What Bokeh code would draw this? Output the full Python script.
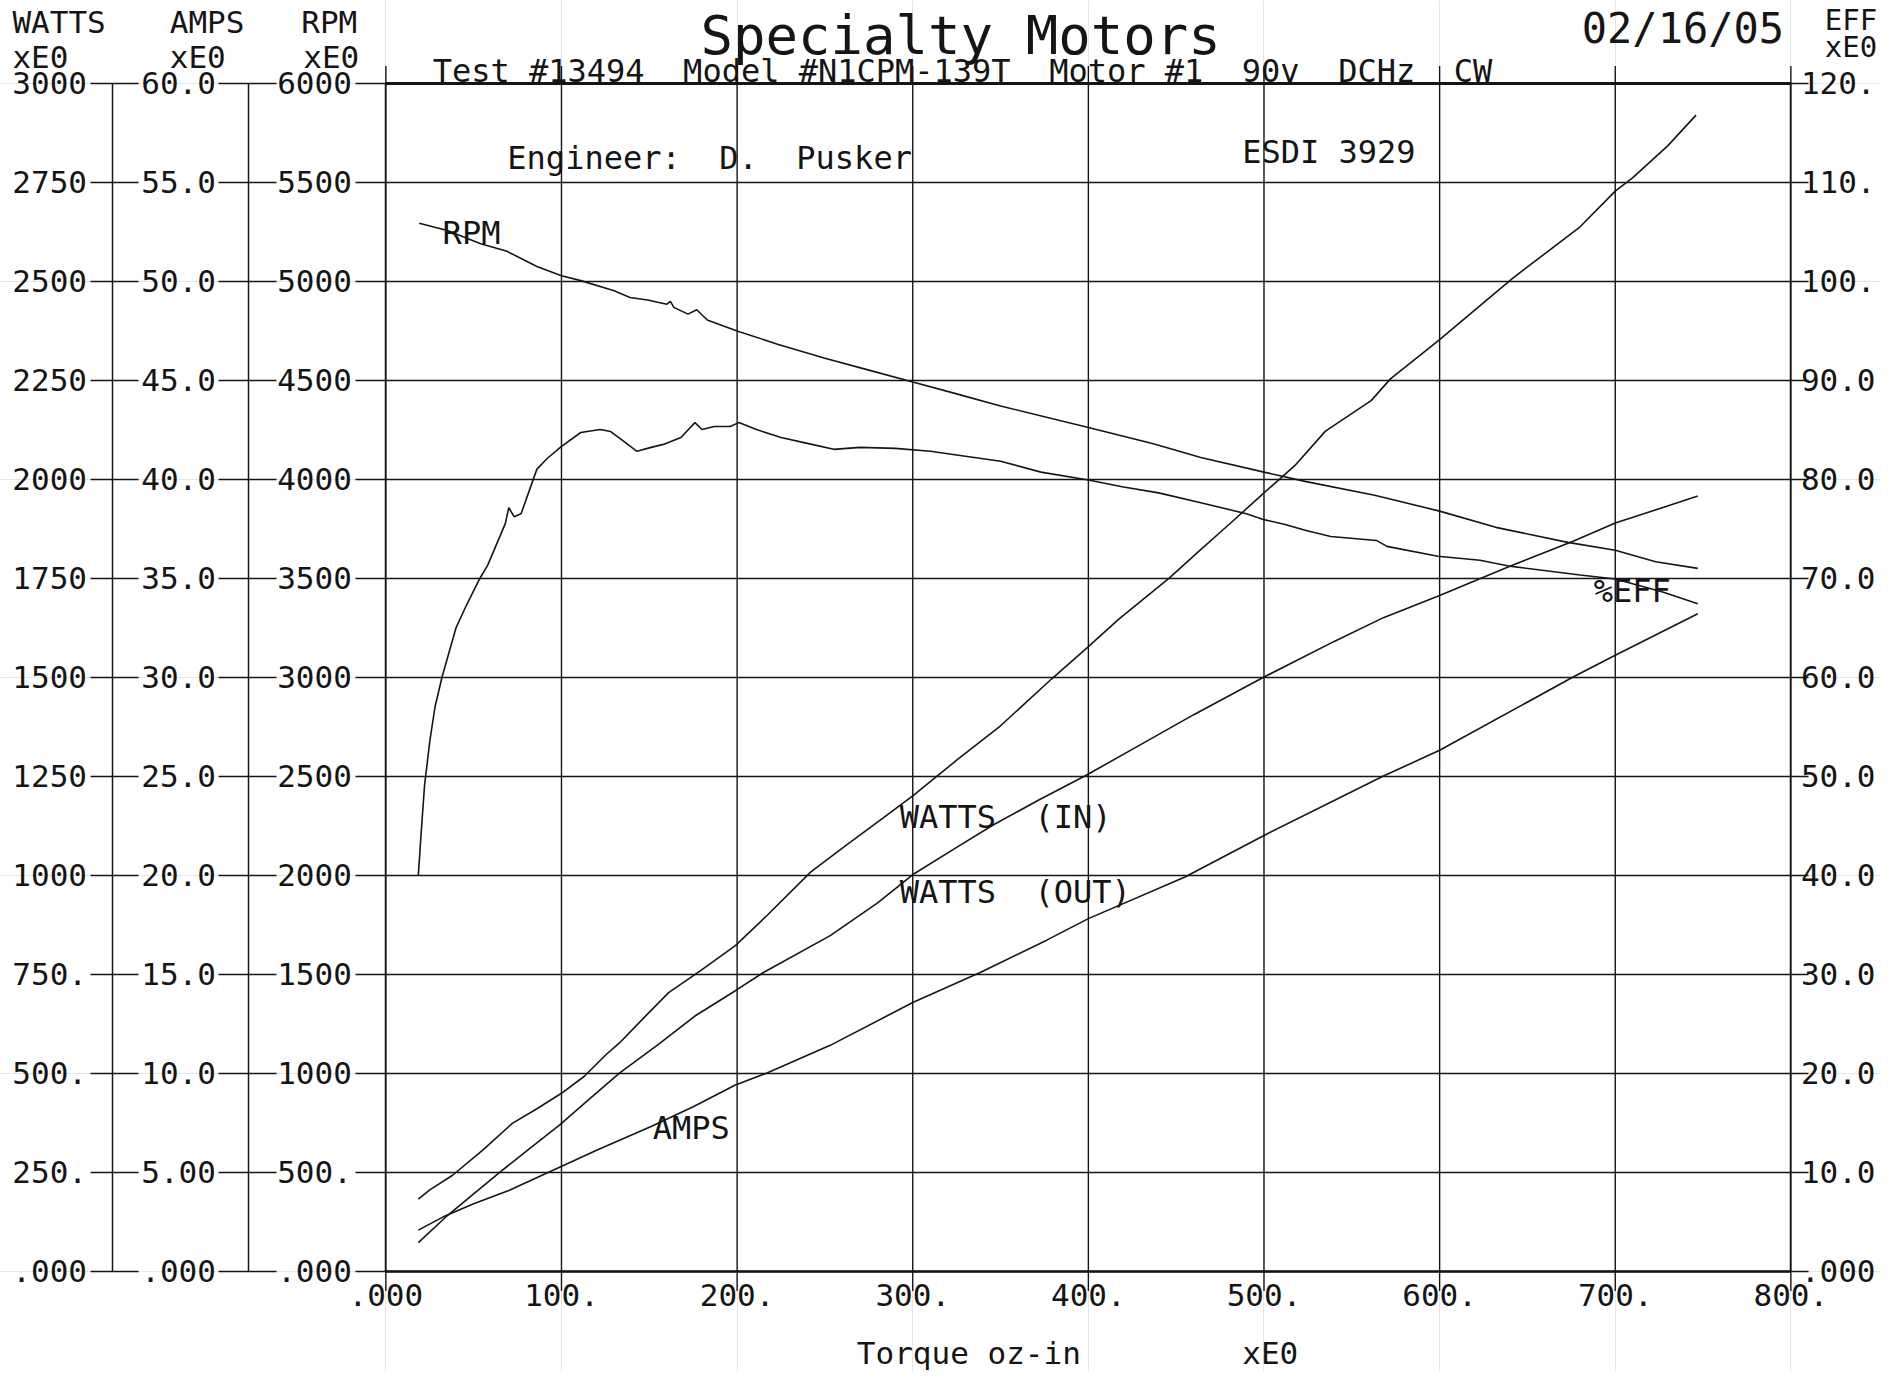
from bokeh.plotting import figure
from bokeh.models import Range1d, LinearAxis, FixedTicker, Label, Grid
from bokeh.embed import file_html
from bokeh.resources import INLINE

# ---------------- data ----------------
torque_ticks = [0, 100, 200, 300, 400, 500, 600, 700, 800]
torque_tick_labels = [".000", "100.", "200.", "300.", "400.", "500.", "600.", "700.", "800."]
watts_ticks = [0, 250, 500, 750, 1000, 1250, 1500, 1750, 2000, 2250, 2500, 2750, 3000]
watts_tick_labels = [".000", "250.", "500.", "750.", "1000", "1250", "1500", "1750", "2000", "2250", "2500", "2750", "3000"]
amps_ticks = [0, 5, 10, 15, 20, 25, 30, 35, 40, 45, 50, 55, 60]
amps_tick_labels = [".000", "5.00", "10.0", "15.0", "20.0", "25.0", "30.0", "35.0", "40.0", "45.0", "50.0", "55.0", "60.0"]
rpm_ticks = [0, 500, 1000, 1500, 2000, 2500, 3000, 3500, 4000, 4500, 5000, 5500, 6000]
rpm_tick_labels = [".000", "500.", "1000", "1500", "2000", "2500", "3000", "3500", "4000", "4500", "5000", "5500", "6000"]
eff_ticks = [0, 10, 20, 30, 40, 50, 60, 70, 80, 90, 100, 110, 120]
eff_tick_labels = [".000", "10.0", "20.0", "30.0", "40.0", "50.0", "60.0", "70.0", "80.0", "90.0", "100.", "110.", "120."]

torque_win = [18.5, 25, 38, 55, 72, 86, 100, 113, 125, 133, 147, 161, 179, 199, 217, 242, 262, 283,
              300, 325, 350, 379, 400, 417, 446, 463, 481, 500, 518, 535, 561, 572, 600, 641, 680,
              700, 710, 730, 746]
watts_in = [182, 205, 242, 305, 373, 410, 449, 492, 545, 576, 640, 703, 758, 822, 898, 1008, 1075, 1144,
            1200, 1290, 1377, 1495, 1577, 1645, 1750, 1818, 1889, 1965, 2036, 2121, 2198, 2253, 2352, 2505, 2637,
            2727, 2761, 2842, 2919]

torque_wout = [18.5, 34, 50, 65, 82, 99, 116, 133, 155, 176, 199, 215, 253, 280, 301, 325, 346, 372,
               398, 430, 460, 500, 540, 568, 600, 640, 676, 700, 725, 747]
watts_out = [72, 136, 195, 250, 310, 369, 435, 500, 572, 644, 708, 754, 847, 930, 1004, 1070, 1127, 1190,
             1250, 1330, 1405, 1500, 1590, 1650, 1706, 1780, 1843, 1889, 1925, 1957]

torque_amps = [18.5, 34, 50, 70, 93, 120, 151, 175, 199, 217, 253, 300, 339, 376, 400, 455, 500, 568,
               600, 676, 700, 747]
amps = [2.07, 2.8, 3.4, 4.07, 5.0, 6.1, 7.3, 8.3, 9.4, 10.0, 11.4, 13.56, 15.1, 16.7, 17.8, 19.9, 22.0, 25.0,
        26.3, 30.0, 31.1, 33.2]

torque_rpm = [19, 35, 54, 69, 86, 100, 111, 130, 139, 149, 160, 162, 164, 172, 177, 183, 200, 223, 250,
              275, 300, 325, 350, 400, 437, 464, 500, 524, 563, 600, 632, 673, 700, 723, 747]
rpm = [5292, 5255, 5188, 5150, 5073, 5027, 5002, 4951, 4917, 4904, 4883, 4897, 4867, 4833, 4855, 4803, 4748,
       4681, 4610, 4550, 4490, 4430, 4369, 4260, 4178, 4109, 4035, 3987, 3918, 3838, 3756, 3680, 3640, 3582, 3549]

torque_eff = [18.5, 20, 22, 25, 28, 32, 36, 40, 46, 53, 58, 63, 68, 70, 73, 77, 86, 92, 100, 111, 122, 128,
              134, 143, 151, 158, 168, 176, 180, 187, 196, 201, 211, 225, 240, 255, 270, 290, 310, 330, 350,
              373, 400, 420, 440, 464, 490, 500, 512, 524, 538, 564, 570, 599, 623, 640, 680, 700, 727, 747]
eff = [40.0, 44, 49, 53.5, 57, 60, 62.5, 65, 67.3, 69.8, 71.3, 73.4, 75.5, 77.1, 76.2, 76.5, 81.0, 82.1, 83.3,
       84.7, 85.0, 84.8, 84.0, 82.8, 83.2, 83.5, 84.2, 85.7, 85.0, 85.3, 85.3, 85.7, 85.0, 84.2, 83.6, 83.0,
       83.2, 83.1, 82.8, 82.3, 81.8, 80.7, 79.9, 79.2, 78.6, 77.6, 76.5, 75.9, 75.4, 74.8, 74.2, 73.8, 73.2,
       72.2, 71.8, 71.2, 70.3, 69.9, 68.6, 67.4]

# ---------------- layout (page pixels) ----------------
W, H = 1880, 1371
WF, HF = W + 8, H + 8                 # extent of the plotting frame as seen on the page
L, R, T, B = 387, 1798, 83, 1278      # where the 0..800 x 0..3000 chart box sits
X_AMPS_AX, X_WATTS_AX = 249.5, 112    # page x of the two outer left axis lines
POKE_TOP, POKE_BOTTOM = 17, 20        # how far the vertical rules run past the box
INK = "#151515"
MONO = "DejaVu Sans Mono"

sx = (R - L) / 800.0
sy = (B - T) / 3000.0
x0 = -L / sx
x1 = x0 + WF / sx
y1 = 3000 + T / sy
y0 = y1 - HF / sy

p = figure(width=W, height=H, x_range=Range1d(x0, x1), y_range=Range1d(y0, y1),
           output_backend="svg", toolbar_location=None,
           x_axis_location=None, y_axis_location=None,
           min_border=0, min_border_left=0, min_border_right=0, min_border_top=0, min_border_bottom=0)
p.extra_y_ranges = {"amps": Range1d(y0 * 60 / 3000, y1 * 60 / 3000),
                    "rpm": Range1d(y0 * 6000 / 3000, y1 * 6000 / 3000),
                    "eff": Range1d(y0 * 120 / 3000, y1 * 120 / 3000)}
p.outline_line_color = None
p.background_fill_color = "white"
p.border_fill_color = "white"

# horizontal grid lines (one per watts tick), limited to the chart box
p.add_layout(Grid(dimension=1, ticker=FixedTicker(ticks=watts_ticks), cross_bounds=(0, 800),
                  grid_line_color=INK, grid_line_width=1.4))

# vertical rules at every torque tick, poking a little above and below the box
p.segment(x0=torque_ticks, y0=[-POKE_BOTTOM / sy] * len(torque_ticks),
          x1=torque_ticks, y1=[3000 + POKE_TOP / sy] * len(torque_ticks),
          line_color=INK, line_width=1.4)


def px_x(page_x):
    return x0 + page_x / sx


def px_y(page_y):
    return y1 - page_y / sy


def style(ax, ticks, labels, tick_out, tick_in, standoff, line_w=1.5, size="31px", tick_w=1.5):
    ax.ticker = FixedTicker(ticks=ticks)
    ax.bounds = (ticks[0], ticks[-1])
    ax.major_label_overrides = {t: s for t, s in zip(ticks, labels)}
    ax.minor_tick_line_color = None
    ax.major_tick_out = tick_out
    ax.major_tick_in = tick_in
    ax.major_tick_line_color = INK
    ax.major_tick_line_width = tick_w
    ax.axis_line_color = INK
    ax.axis_line_width = line_w
    ax.major_label_standoff = standoff
    ax.major_label_text_font = MONO
    ax.major_label_text_font_size = size
    ax.major_label_text_color = INK


ax_rpm = LinearAxis(y_range_name="rpm", fixed_location=0)
style(ax_rpm, rpm_ticks, rpm_tick_labels, 30, 0, 4)
p.add_layout(ax_rpm, "left")

ax_amps = LinearAxis(y_range_name="amps", fixed_location=px_x(X_AMPS_AX))
style(ax_amps, amps_ticks, amps_tick_labels, 30, 28, 3)
p.add_layout(ax_amps, "left")

ax_watts = LinearAxis(fixed_location=px_x(X_WATTS_AX))
style(ax_watts, watts_ticks, watts_tick_labels, 22, 26, 3)
p.add_layout(ax_watts, "left")

ax_eff = LinearAxis(y_range_name="eff", fixed_location=800)
style(ax_eff, eff_ticks, eff_tick_labels, 18, 0, -8)
p.add_layout(ax_eff, "right")

# bottom edge: thick line and the torque labels
ax_x = LinearAxis(fixed_location=0)
style(ax_x, torque_ticks, torque_tick_labels, 0, 0, 13, line_w=2.5)
ax_x.major_tick_line_color = None
p.add_layout(ax_x, "below")

# top edge: thick line only
ax_top = LinearAxis(fixed_location=3000)
style(ax_top, torque_ticks, ["" for _ in torque_ticks], 0, 0, 0, line_w=3)
ax_top.major_tick_line_color = None
ax_top.major_label_text_font_size = "0px"
p.add_layout(ax_top, "above")

# ---------------- curves ----------------
lw = 1.6
p.line(torque_win, watts_in, line_color=INK, line_width=lw)
p.line(torque_wout, watts_out, line_color=INK, line_width=lw)
p.line(torque_amps, amps, line_color=INK, line_width=lw, y_range_name="amps")
p.line(torque_rpm, rpm, line_color=INK, line_width=lw, y_range_name="rpm")
p.line(torque_eff, eff, line_color=INK, line_width=lw, y_range_name="eff")


# ---------------- texts ----------------
def txt(s, x, y, size=32, align="left"):
    p.add_layout(Label(x=px_x(x), y=px_y(y), text=s, text_font=MONO, text_font_size=f"{size}px",
                       text_color=INK, text_align=align, text_baseline="middle"))


NB = "\u00a0"
txt("Specialty Motors", 703, 35, 54)
txt("02/16/05", 1588, 28, 42)
txt("WATTS", 12, 22, 31)
txt("xE0", 12, 57, 31)
txt("AMPS", 170, 22, 31)
txt("xE0", 170, 57, 31)
txt("RPM", 302, 22, 31)
txt("xE0", 304, 57, 31)
txt("EFF", 1832, 20, 29)
txt("xE0", 1832, 47, 29)
txt(f"Test #13494 {NB}Model #N1CPM-139T {NB}Motor #1 {NB}90v {NB}DCHz {NB}CW", 434, 71, 32)
txt(f"Engineer: {NB}D. {NB}Pusker", 509, 158, 32)
txt("ESDI 3929", 1247, 152, 32)
txt("RPM", 444, 234, 32)
txt(f"WATTS {NB}(IN)", 903, 821, 32)
txt(f"WATTS {NB}(OUT)", 903, 897, 32)
txt("AMPS", 655, 1134, 32)
txt("%EFF", 1600, 594, 32)
txt("Torque oz-in", 860, 1360, 31)
txt("xE0", 1247, 1360, 31)

open("out.html", "w").write(file_html(p, INLINE))
